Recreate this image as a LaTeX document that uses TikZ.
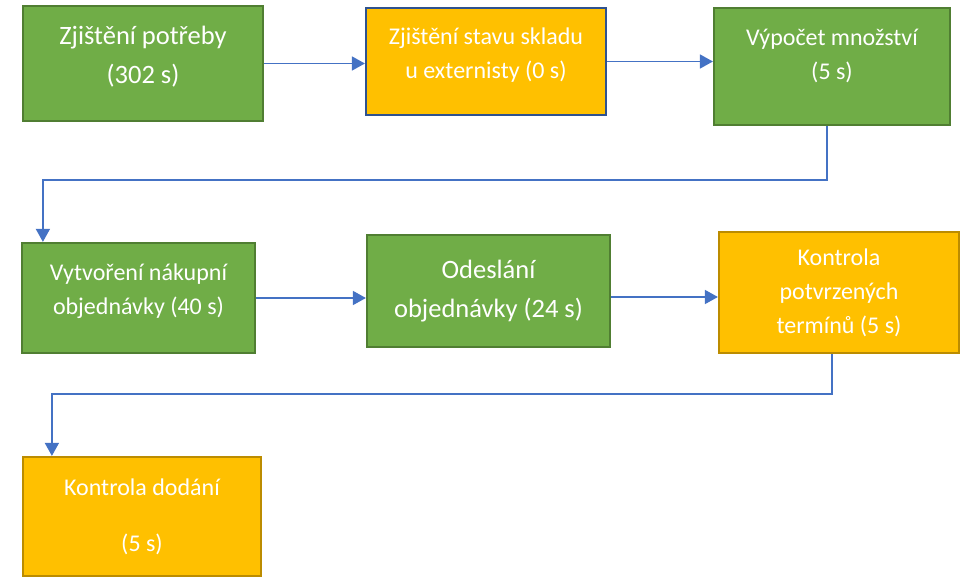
\documentclass[tikz,border=0pt]{standalone}
\usepackage{fontspec}
\setmainfont{Carlito}
\usepackage{tikz}
\usetikzlibrary{arrows.meta}
\definecolor{zelena}{HTML}{70AD47}
\definecolor{zelenaokraj}{HTML}{507E32}
\definecolor{oranzova}{HTML}{FFC000}
\definecolor{oranzovaokraj}{HTML}{BC8C00}
\definecolor{modraokraj}{HTML}{2F528F}
\definecolor{modra}{HTML}{4472C4}

\begin{document}
\begin{tikzpicture}[x=1pt,y=-1pt,>={Triangle[length=13pt,width=14pt]},
    box/.style={draw,line width=2.2pt,align=center,text=white,
      font=\fontsize{24}{34}\selectfont},
    greenbox/.style={box,fill=zelena,draw=zelenaokraj},
    orangebox/.style={box,fill=oranzova,draw=oranzovaokraj},
    bigtext/.style={font=\fontsize{26.5}{39}\selectfont},
    flow/.style={->,draw=modra,line width=1.6pt}]
    \useasboundingbox (0,0) rectangle (967,577);
    \node[greenbox,bigtext,text depth=18pt,minimum width=240pt,minimum height=115pt] (zjisteni) at (143,63.5) {Zjištění potřeby\\(302 s)};
    \node[orangebox,draw=modraokraj,text depth=16pt,minimum width=240pt,minimum height=107pt] (stav) at (486,61.5) {Zjištění stavu skladu\\u externisty (0 s)};
    \node[greenbox,text depth=24pt,minimum width=236pt,minimum height=117pt] (vypocet) at (832,66.5) {Výpočet množství\\(5 s)};
    \node[greenbox,text depth=18pt,minimum width=233pt,minimum height=110pt] (vytvoreni) at (138.5,298) {Vytvoření nákupní\\objednávky (40 s)};
    \node[greenbox,bigtext,minimum width=243pt,minimum height=112pt] (odeslani) at (488.5,291) {Odeslání\\objednávky (24 s)};
    \node[orangebox,minimum width=240pt,minimum height=121pt] (terminy) at (839,292.5) {Kontrola\\potvrzených\\termínů (5 s)};
    \node[orangebox,minimum width=238pt,minimum height=119pt] (dodani) at (142,516.5) {Kontrola dodání\\[22pt](5 s)};
    \draw[flow] (zjisteni.east) -- (zjisteni.east -| stav.west);
    \draw[flow] (stav.east) -- (stav.east -| vypocet.west);
    \draw[flow] ([xshift=-5pt]vypocet.south) -- ++(0,54) -| ([xshift=22pt]vytvoreni.north west);
    \draw[flow] (vytvoreni.east) -- (vytvoreni.east -| odeslani.west);
    \draw[flow] ([yshift=-6pt]odeslani.east) -- ([yshift=-6pt]odeslani.east -| terminy.west);
    \draw[flow] ([xshift=-7pt]terminy.south) -- ++(0,40) -| ([xshift=30pt]dodani.north west);
  \end{tikzpicture}
\end{document}
